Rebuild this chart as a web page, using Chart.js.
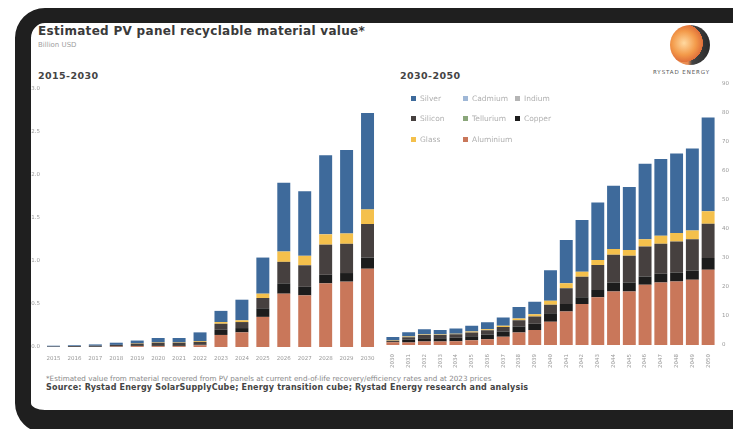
<!DOCTYPE html>
<html>
<head>
<meta charset="utf-8">
<title>Estimated PV panel recyclable material value</title>
<script src="https://cdn.jsdelivr.net/npm/chart.js@4.4.1/dist/chart.umd.min.js"></script>
<style>
    html, body { margin: 0; padding: 0; background: #fff; }
    body { width: 733px; height: 429px; position: relative; overflow: hidden; font-family: "DejaVu Sans", sans-serif; }
    .frame {
        position: absolute; left: 15px; top: 8px; width: 760px; height: 425px; box-sizing: border-box;
        border-style: solid; border-color: #1f1f1f; border-width: 15px 15px 23px 16px;
        border-radius: 30px; background: #fff;
    }
    .txt { position: absolute; white-space: nowrap; }
    .title { left: 38px; top: 24px; font-size: 12px; font-weight: bold; color: #3a3a3a; letter-spacing: 0.3px; }
    .subtitle { left: 38px; top: 41px; font-size: 7px; color: #a0a0a0; }
    .period { top: 70px; font-size: 9.5px; font-weight: bold; color: #444; letter-spacing: 0.4px; }
    .note { left: 46px; top: 374px; font-size: 7.2px; color: #888; }
    .source { left: 46px; top: 383px; font-size: 8px; font-weight: bold; color: #444; letter-spacing: 0.2px; }
    .logo {
        position: absolute; left: 670px; top: 25px; width: 40px; height: 40px; border-radius: 50%;
        background: radial-gradient(circle at 35% 45%, #ffd9a0 0%, #f39a4a 35%, #e0703a 55%, rgba(0,0,0,0) 56%),
                    linear-gradient(90deg, #f0a060 0%, #e88a50 45%, #444 55%, #2a2a2a 100%);
    }
    .logotxt { left: 653px; top: 69px; font-size: 5.5px; color: #555; letter-spacing: 0.9px; }
    .chartbox { position: absolute; }
    #legend { position: absolute; left: 0; top: 0; }
    .lg { position: absolute; font-size: 7.5px; color: #b0b0b0; white-space: nowrap; }
    .lg i { display: inline-block; width: 5px; height: 5px; margin-right: 4px; vertical-align: 0; }
</style>
</head>
<body>
<div class="frame"></div>
<div class="txt title">Estimated PV panel recyclable material value*</div>
<div class="txt subtitle">Billion USD</div>
<div class="txt period" style="left:38px">2015-2030</div>
<div class="txt period" style="left:400px">2030-2050</div>
<div class="logo"></div>
<div class="txt logotxt">RYSTAD ENERGY</div>

<div class="chartbox" style="left:29px; top:80px; width:356px; height:285px;"><canvas id="early"></canvas></div>
<div class="chartbox" style="left:380px; top:74px; width:353px; height:296px;"><canvas id="late"></canvas></div>
<div id="legend"></div>

<div class="txt note">*Estimated value from material recovered from PV panels at current end-of-life recovery/efficiency rates and at 2023 prices</div>
<div class="txt source">Source: Rystad Energy SolarSupplyCube; Energy transition cube; Rystad Energy research and analysis</div>

<script>
'use strict';

// 2015-2030, billion USD
var yearsEarly     = ['2015', '2016', '2017', '2018', '2019', '2020', '2021', '2022', '2023', '2024', '2025', '2026', '2027', '2028', '2029', '2030'];
var aluminiumEarly = [0, 0, 0, 0.005, 0.01, 0.01, 0.01, 0.02, 0.14, 0.17, 0.35, 0.62, 0.60, 0.74, 0.76, 0.91];
var copperEarly    = [0, 0, 0.005, 0.005, 0.01, 0.01, 0.01, 0.01, 0.06, 0.05, 0.10, 0.12, 0.10, 0.10, 0.10, 0.13];
var siliconEarly   = [0.005, 0.01, 0.01, 0.015, 0.02, 0.03, 0.03, 0.03, 0.07, 0.07, 0.12, 0.25, 0.25, 0.35, 0.34, 0.39];
var glassEarly     = [0, 0, 0, 0, 0.005, 0.005, 0.005, 0.01, 0.02, 0.02, 0.05, 0.12, 0.11, 0.12, 0.12, 0.17];
var silverEarly    = [0.01, 0.01, 0.015, 0.025, 0.03, 0.05, 0.05, 0.10, 0.13, 0.24, 0.42, 0.80, 0.75, 0.92, 0.97, 1.12];

// 2030-2050, billion USD
var yearsLate     = ['2030', '2031', '2032', '2033', '2034', '2035', '2036', '2037', '2038', '2039', '2040', '2041', '2042', '2043', '2044', '2045', '2046', '2047', '2048', '2049', '2050'];
var aluminiumLate = [0.91, 0.9, 1.2, 1.2, 1.3, 1.6, 2.0, 2.8, 4.3, 5.2, 8.0, 11.5, 14.1, 16.4, 18.4, 18.4, 20.7, 21.5, 21.8, 22.4, 25.9];
var copperLate    = [0.13, 0.9, 1.1, 1.1, 1.2, 1.4, 1.6, 1.8, 2.1, 2.1, 2.9, 2.6, 2.3, 2.5, 3.1, 3.1, 2.9, 3.0, 3.1, 3.2, 4.0];
var siliconLate   = [0.39, 0.9, 1.1, 1.1, 1.2, 1.3, 1.5, 1.6, 2.1, 2.5, 2.9, 5.4, 7.1, 8.6, 9.5, 9.2, 10.3, 10.3, 10.7, 10.8, 11.8];
var glassLate     = [0.17, 0.2, 0.2, 0.2, 0.2, 0.3, 0.3, 0.4, 0.6, 0.8, 1.4, 1.7, 1.7, 1.7, 2.0, 2.0, 2.5, 2.8, 2.9, 3.0, 4.3];
var silverLate    = [1.12, 1.5, 1.8, 1.6, 1.8, 2.0, 2.4, 2.9, 4.0, 4.3, 10.5, 14.9, 17.8, 19.8, 21.8, 21.6, 25.9, 26.4, 27.4, 28.2, 32.2];

// materials too small to see in the bars
var cadmiumEarly = [0, 0, 0, 0, 0, 0, 0, 0, 0, 0, 0, 0, 0, 0, 0, 0];
var indiumEarly = cadmiumEarly, telluriumEarly = cadmiumEarly;
var cadmiumLate = [0, 0, 0, 0, 0, 0, 0, 0, 0, 0, 0, 0, 0, 0, 0, 0, 0, 0, 0, 0, 0];
var indiumLate = cadmiumLate, telluriumLate = cadmiumLate;

var earlyTicks = [0, 0.5, 1.0, 1.5, 2.0, 2.5, 3.0];
var lateTicks  = [0, 10, 20, 30, 40, 50, 60, 70, 80, 90];

var materials = [
    { label: 'Aluminium', color: '#c9775a', early: aluminiumEarly, late: aluminiumLate },
    { label: 'Copper',    color: '#1c1c1c', early: copperEarly,    late: copperLate },
    { label: 'Silicon',   color: '#46403f', early: siliconEarly,   late: siliconLate },
    { label: 'Glass',     color: '#f4c04c', early: glassEarly,     late: glassLate },
    { label: 'Silver',    color: '#3e6a9b', early: silverEarly,    late: silverLate },
    { label: 'Cadmium',   color: '#9fb7d6', early: cadmiumEarly,   late: cadmiumLate },
    { label: 'Indium',    color: '#b5b5b5', early: indiumEarly,    late: indiumLate },
    { label: 'Tellurium', color: '#8aa67a', early: telluriumEarly, late: telluriumLate }
];

// legend layout as in the slide: three rows
var legendRows = [['Silver', 'Cadmium', 'Indium'], ['Silicon', 'Tellurium', 'Copper'], ['Glass', 'Aluminium']];

var tickColor = '#999999';
var tickFont  = { family: 'DejaVu Sans', size: 5.5 };

function datasets(period, barPct) {
    return materials.map(function (m) {
        return {
            label: m.label,
            data: m[period],
            backgroundColor: m.color,
            borderWidth: 0,
            categoryPercentage: 1,
            barPercentage: barPct
        };
    });
}

function fixTicks(list) {
    return function (scale) {
        scale.ticks = list.map(function (v) { return { value: v }; });
    };
}

Chart.defaults.animation = false;
Chart.defaults.font.family = 'DejaVu Sans';

new Chart(document.getElementById('early'), {
    type: 'bar',
    data: { labels: yearsEarly, datasets: datasets('early', 0.62) },
    options: {
        responsive: true,
        maintainAspectRatio: false,
        layout: { padding: { top: 9, right: 7, left: 0, bottom: 0 } },
        plugins: { legend: { display: false }, tooltip: { enabled: false } },
        scales: {
            x: {
                stacked: true,
                grid: { display: false },
                border: { display: false },
                ticks: { color: tickColor, font: tickFont, maxRotation: 0, autoSkip: false, padding: 0 },
                afterFit: function (s) { s.height = 18; }
            },
            y: {
                stacked: true,
                min: 0,
                max: 3,
                afterBuildTicks: fixTicks(earlyTicks),
                grid: { display: false, drawTicks: false },
                border: { display: false },
                ticks: { color: tickColor, font: tickFont, padding: 3, callback: function (v) { return v.toFixed(1); } },
                afterFit: function (s) { s.width = 14; }
            }
        }
    }
});

new Chart(document.getElementById('late'), {
    type: 'bar',
    data: { labels: yearsLate, datasets: datasets('late', 0.82) },
    options: {
        responsive: true,
        maintainAspectRatio: false,
        layout: { padding: { top: 3, right: 3, left: 5, bottom: 0 } },
        plugins: { legend: { display: false }, tooltip: { enabled: false } },
        scales: {
            x: {
                stacked: true,
                grid: { display: false },
                border: { display: false },
                ticks: { color: tickColor, font: tickFont, minRotation: 90, maxRotation: 90, autoSkip: false, padding: 1 },
                afterFit: function (s) { s.height = 25; }
            },
            y: {
                stacked: true,
                position: 'right',
                min: 0,
                max: 90,
                afterBuildTicks: fixTicks(lateTicks),
                grid: { display: false, drawTicks: false },
                border: { display: false },
                ticks: { color: tickColor, font: tickFont, padding: 6 },
                afterFit: function (s) { s.width = 14; }
            }
        }
    }
});

// html legend, filled from the material list
var legend = document.getElementById('legend');
var colX = [411, 463, 515], rowY = [94, 114, 135];
legendRows.forEach(function (row, r) {
    row.forEach(function (name, c) {
        var m = materials.filter(function (d) { return d.label === name; })[0];
        var el = document.createElement('div');
        el.className = 'lg';
        el.style.left = colX[c] + 'px';
        el.style.top = rowY[r] + 'px';
        el.innerHTML = '<i style="background:' + m.color + '"></i>' + m.label;
        legend.appendChild(el);
    });
});
</script>
</body>
</html>
